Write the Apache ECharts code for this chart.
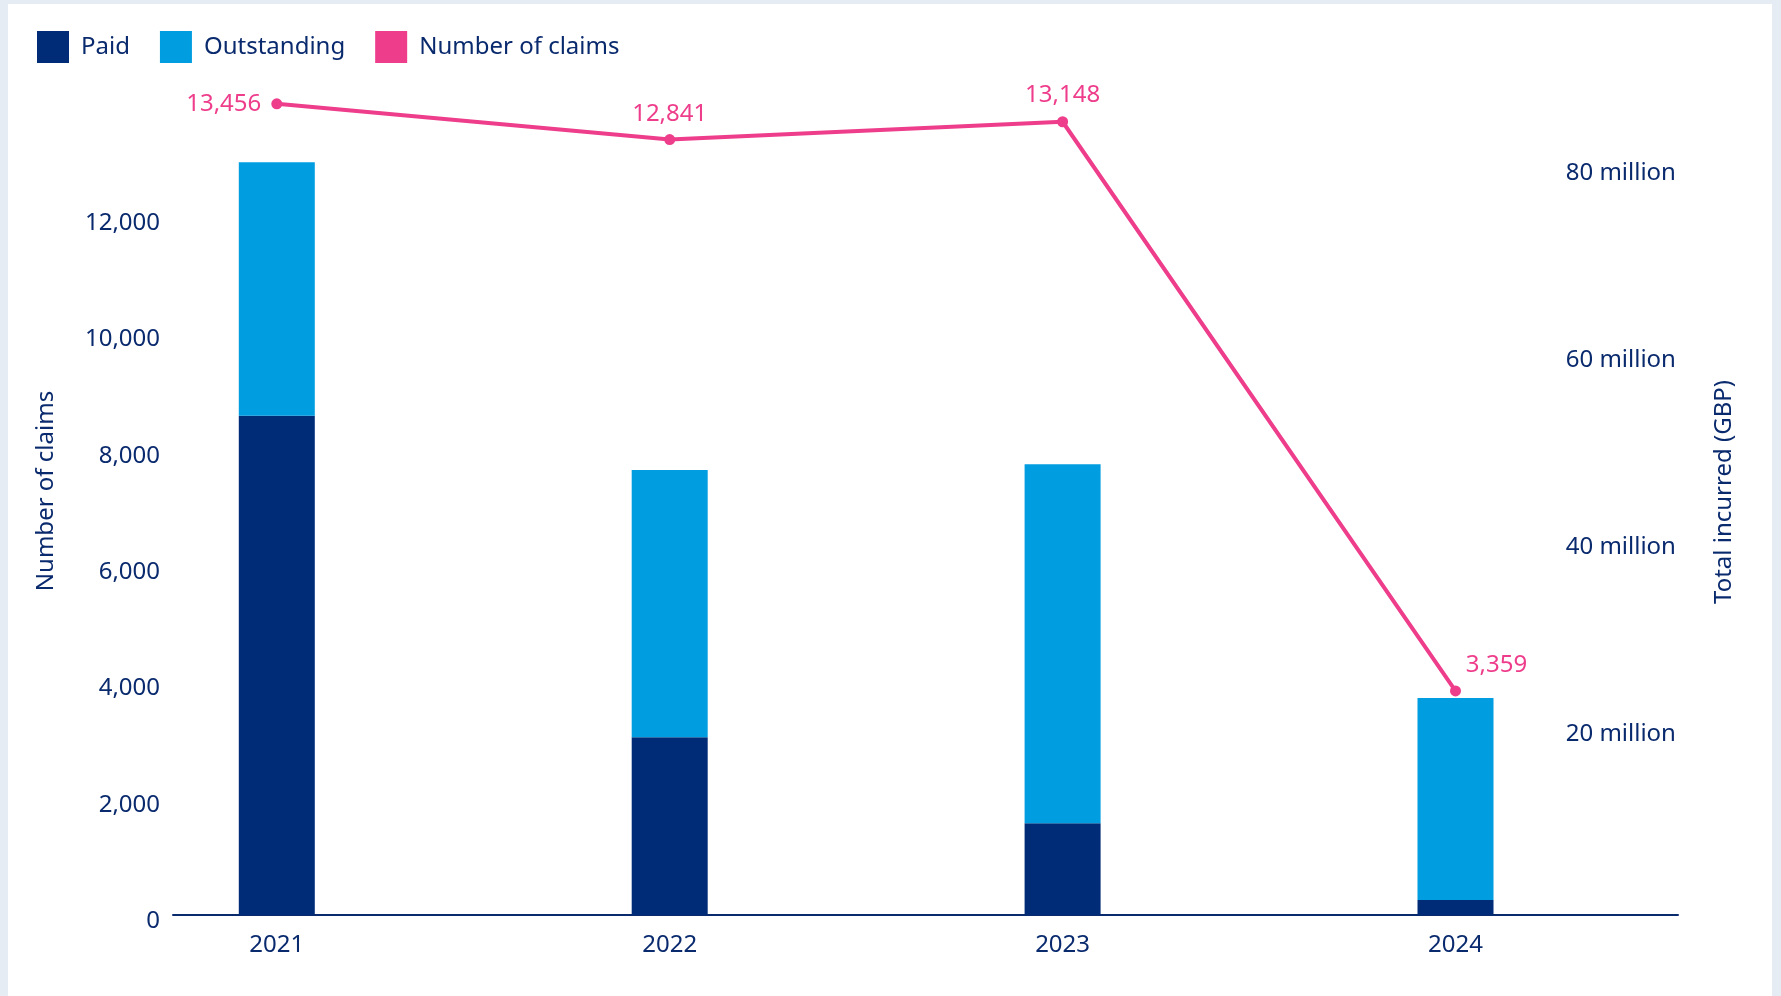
<!DOCTYPE html>
<html>
<head>
<meta charset="utf-8">
<script src="https://cdn.jsdelivr.net/npm/echarts@6/dist/echarts.min.js"></script>
<style>
  html, body { margin: 0; padding: 0; width: 1781px; height: 996px; overflow: hidden; background: #e5ecf4; }
  #panel { position: absolute; left: 8px; top: 4px; width: 1764px; height: 1000px; background: #ffffff; }
  #chart { position: absolute; left: 0; top: 0; width: 1781px; height: 996px; }
</style>
</head>
<body>
<div id="panel"></div>
<div id="chart"></div>
<script>
// ---- data ----
const years = ['2021', '2022', '2023', '2024'];
const paidMillions = [53.4, 19.0, 9.8, 1.6];
const outstandingMillions = [27.1, 28.6, 38.4, 21.6];
const numberOfClaims = [13456, 12841, 13148, 3359];
const seriesNames = ['Paid', 'Outstanding', 'Number of claims'];
const leftAxisTitle = 'Number of claims';
const rightAxisTitle = 'Total incurred (GBP)';

// ---- styles ----
const FONT = '"Noto Sans", "Open Sans", sans-serif';
const NAVY_TEXT = '#0a2a6e';
const PAID = '#002b76';
const OUTSTANDING = '#009de0';
const PINK = '#ee3d8b';

const claimLabelStyles = [
  { position: 'left', distance: 10 },
  { position: 'top', distance: 8 },
  { position: 'top', distance: 9 },
  { position: 'top', distance: 8, offset: [41, 0] }
];

const chart = echarts.init(document.getElementById('chart'), null, { renderer: 'canvas' });

const axisLabelBase = { fontFamily: FONT, fontSize: 24, color: NAVY_TEXT };

const option = {
  backgroundColor: 'transparent',
  animation: false,
  textStyle: { fontFamily: FONT },
  legend: {
    left: 37,
    top: 31,
    padding: 0,
    itemWidth: 32,
    itemHeight: 32,
    itemGap: 30,
    icon: 'rect',
    textStyle: { fontFamily: FONT, fontSize: 24, color: NAVY_TEXT, padding: [0, 0, 0, 7] },
    data: seriesNames.map(n => ({ name: n, icon: 'rect' }))
  },
  grid: [
    // data grid: category bands centred on the year positions
    { left: 80.35, right: 129.05, top: 101, bottom: 81 },
    // baseline grid: carries the visible horizontal axis line
    { left: 173, right: 103, top: 101, bottom: 81 }
  ],
  xAxis: [
    {
      type: 'category', gridIndex: 0, data: years, boundaryGap: true,
      axisLine: { show: false }, axisTick: { show: false }, splitLine: { show: false },
      axisLabel: Object.assign({ margin: 18 }, axisLabelBase)
    },
    {
      type: 'value', gridIndex: 1, min: 0, max: 1,
      axisLine: { show: true, lineStyle: { color: '#0a2a6e', width: 2 } },
      axisTick: { show: false }, axisLabel: { show: false }, splitLine: { show: false }
    }
  ],
  yAxis: [
    {
      type: 'value', gridIndex: 0, position: 'left', offset: -92.65,
      min: 0, max: 14000, interval: 2000,
      axisLine: { show: false }, axisTick: { show: false }, splitLine: { show: false },
      axisLabel: Object.assign({
        showMaxLabel: false,
        formatter: v => v.toLocaleString('en-US'),
        margin: 13, verticalAlign: 'top', lineHeight: 12
      }, axisLabelBase)
    },
    {
      type: 'value', gridIndex: 0, position: 'right', offset: 26,
      min: 0, max: 87.06, interval: 20,
      axisLine: { show: false }, axisTick: { show: false }, splitLine: { show: false },
      axisLabel: Object.assign({
        inside: true,
        showMinLabel: false, showMaxLabel: false,
        formatter: v => (v === 0 ? '' : v + ' million'),
        margin: 2, verticalAlign: 'top', lineHeight: 12
      }, axisLabelBase)
    },
    {
      type: 'value', gridIndex: 0, show: false, min: -495, max: 13505
    },
    {
      type: 'value', gridIndex: 1, show: false, min: 0, max: 1
    }
  ],
  graphic: [
    {
      type: 'text', x: 46, y: 491, rotation: Math.PI / 2,
      style: { text: leftAxisTitle, font: '24px ' + FONT, fill: NAVY_TEXT, textAlign: 'center', textVerticalAlign: 'middle' }
    },
    {
      type: 'text', x: 1724, y: 492, rotation: Math.PI / 2,
      style: { text: rightAxisTitle, font: '24px ' + FONT, fill: NAVY_TEXT, textAlign: 'center', textVerticalAlign: 'middle' }
    }
  ],
  series: [
    {
      name: seriesNames[0], type: 'bar', stack: 'incurred',
      xAxisIndex: 0, yAxisIndex: 1, barWidth: 76,
      itemStyle: { color: PAID },
      data: paidMillions
    },
    {
      name: seriesNames[1], type: 'bar', stack: 'incurred',
      xAxisIndex: 0, yAxisIndex: 1, barWidth: 76,
      itemStyle: { color: OUTSTANDING },
      data: outstandingMillions
    },
    {
      name: seriesNames[2], type: 'line', xAxisIndex: 0, yAxisIndex: 2,
      symbol: 'circle', symbolSize: 11,
      lineStyle: { color: PINK, width: 4 },
      itemStyle: { color: PINK },
      label: {
        show: true, color: PINK, fontFamily: FONT, fontSize: 24,
        formatter: p => Number(p.value).toLocaleString('en-US')
      },
      data: numberOfClaims.map((v, i) => ({ value: v, label: claimLabelStyles[i] })),
      z: 5
    }
  ]
};

chart.setOption(option);
</script>
</body>
</html>
